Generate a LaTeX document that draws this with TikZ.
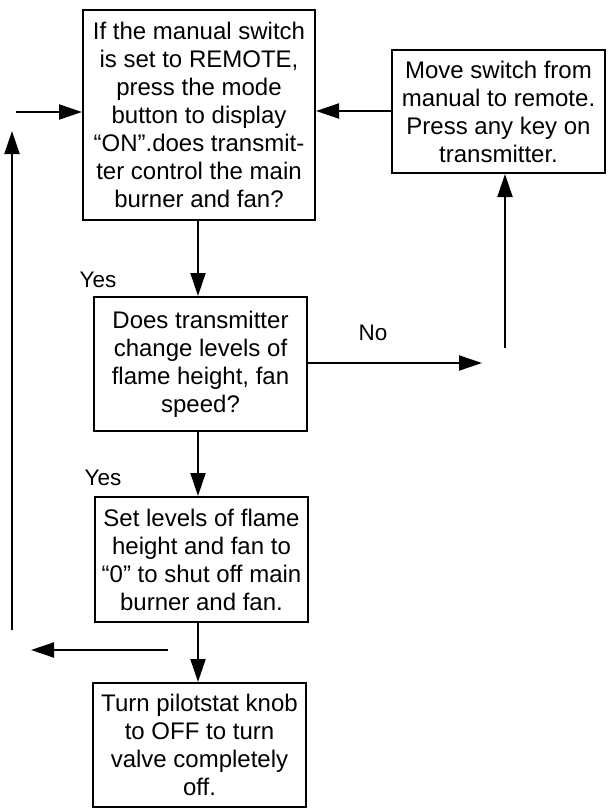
\documentclass[tikz,border=0pt]{standalone}
\usepackage{fontspec}
\setmainfont{Liberation Sans}
\usetikzlibrary{arrows.meta,calc}
\begin{document}
\begin{tikzpicture}[x=1pt,y=-1pt,
  box/.style={draw,line width=2pt,align=center,inner sep=0pt,
    font=\fontsize{24}{28}\selectfont},
  conn/.style={line width=2pt,-{Triangle[length=23pt,width=15pt]}},
  lbl/.style={font=\fontsize{22.5}{26}\selectfont,inner sep=0pt}]
\useasboundingbox (0,0) rectangle (613,808);
\node[box,minimum width=232pt,minimum height=210pt] (b1) at (199,115)
  {If the manual switch\\is set to REMOTE,\\press the mode\\button to display\\“ON”.does transmit-\\ter control the main\\burner and fan?};
\node[box,minimum width=213pt,minimum height=123pt] (b2) at (498.5,111.5)
  {Move switch from\\manual to remote.\\Press any key on\\transmitter.};
\node[box,minimum width=213pt,minimum height=134pt] (b3) at (200.5,364)
  {Does transmitter\\change levels of\\flame height, fan\\speed?};
\node[box,minimum width=213pt,minimum height=125pt] (b4) at (201.5,559.5)
  {Set levels of flame\\height and fan to\\“0” to shut off main\\burner and fan.};
\node[box,minimum width=213pt,minimum height=124pt] (b5) at (199.5,745)
  {Turn pilotstat knob\\to OFF to turn\\valve completely\\off.};
\node[lbl] (yes1) at (98,280) {Yes};
\node[lbl] (yes2) at (103,478) {Yes};
\node[lbl] (no) at (373,333) {No};
\coordinate (noend) at (482,363);
\coordinate (upstart) at (505,348);
\coordinate (lastart) at (168,650);
\coordinate (laend) at (31,650);
\coordinate (lvstart) at (12,630);
\coordinate (lvend) at (12,131);
\coordinate (inleft) at (16,112);
\coordinate (c1) at (198,220);
\coordinate (c3) at (198,431);
\coordinate (c4) at (198,622);
\draw[conn] (c1) -- (c1 |- b3.north);
\draw[conn] (c3) -- (c3 |- b4.north);
\draw[conn] (c4) -- (c4 |- b5.north);
\draw[conn] (b3.east |- noend) -- (noend);
\draw[conn] (upstart) -- (upstart |- b2.south);
\draw[conn] (b2.west |- 0,111) -- (b1.east |- 0,111);
\draw[conn] (inleft) -- (b1.west |- inleft);
\draw[conn] (lastart) -- (laend);
\draw[conn] (lvstart) -- (lvend);
\end{tikzpicture}
\end{document}
